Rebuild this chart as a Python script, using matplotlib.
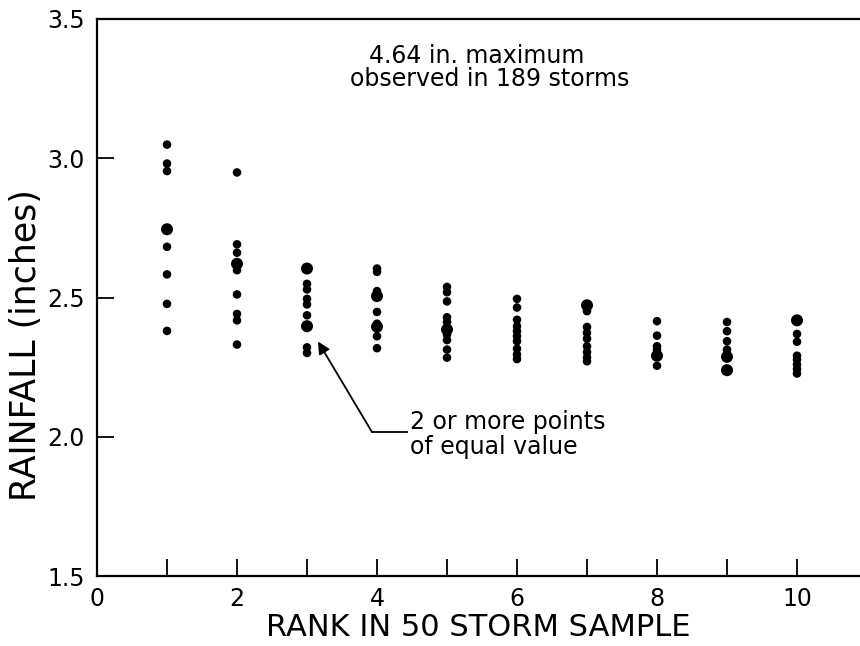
import matplotlib
matplotlib.use("Agg")
import matplotlib.pyplot as plt

plt.rcParams['font.family'] = ['DejaVu Sans']

# Rainfall values (inches) for each rank
rank1 = [3.049, 2.981, 2.954, 2.745, 2.682, 2.583, 2.477, 2.380]
rank2 = [2.949, 2.691, 2.661, 2.621, 2.598, 2.511, 2.441, 2.418, 2.331]
rank3 = [2.604, 2.549, 2.529, 2.495, 2.475, 2.436, 2.397, 2.321, 2.301]
rank4 = [2.604, 2.592, 2.523, 2.505, 2.448, 2.406, 2.395, 2.361, 2.318]
rank5 = [2.538, 2.519, 2.486, 2.429, 2.412, 2.385, 2.366, 2.347, 2.313, 2.284]
rank6 = [2.495, 2.464, 2.420, 2.397, 2.379, 2.361, 2.343, 2.316, 2.295, 2.279]
rank7 = [2.472, 2.451, 2.394, 2.373, 2.352, 2.325, 2.304, 2.285, 2.271]
rank8 = [2.415, 2.363, 2.325, 2.313, 2.291, 2.255]
rank9 = [2.412, 2.379, 2.343, 2.313, 2.287, 2.239]
rank10 = [2.418, 2.369, 2.341, 2.291, 2.277, 2.259, 2.243, 2.227]

# multiplicity (2 = two or more points of equal value)
mult1 = [1, 1, 1, 2, 1, 1, 1, 1]
mult2 = [1, 1, 1, 2, 1, 1, 1, 1, 1]
mult3 = [2, 1, 1, 1, 1, 1, 2, 1, 1]
mult4 = [1, 1, 1, 2, 1, 1, 2, 1, 1]
mult5 = [1, 1, 1, 1, 1, 2, 1, 1, 1, 1]
mult6 = [1, 1, 1, 1, 1, 1, 1, 1, 1, 1]
mult7 = [2, 1, 1, 1, 1, 1, 1, 1, 1]
mult8 = [1, 1, 1, 1, 2, 1]
mult9 = [1, 1, 1, 1, 2, 2]
mult10 = [2, 1, 1, 1, 1, 1, 1, 1]

ranks = [1, 2, 3, 4, 5, 6, 7, 8, 9, 10]
values = [rank1, rank2, rank3, rank4, rank5, rank6, rank7, rank8, rank9, rank10]
mults = [mult1, mult2, mult3, mult4, mult5, mult6, mult7, mult8, mult9, mult10]

x_ticklabels = ["0", "2", "4", "6", "8", "10"]
y_ticklabels = ["1.5", "2.0", "2.5", "3.0", "3.5"]

fig = plt.figure(figsize=(8.6, 6.46), dpi=100)
ax = fig.add_axes([97/860, 1-576/646, 1-97/860, (576-19)/646])

for r, vals, m in zip(ranks, values, mults):
    sizes = [38 if k == 1 else 75 for k in m]
    ax.scatter([r]*len(vals), vals, s=sizes, color='black', edgecolors='none', zorder=3)

ax.set_xlim(0, 763/70)
ax.set_ylim(1.5, 3.5)

ax.set_xticks(range(0, 11))
ax.set_xticklabels([x_ticklabels[i//2] if i % 2 == 0 else "" for i in range(11)])
ax.set_yticks([1.5, 2.0, 2.5, 3.0, 3.5])
ax.set_yticklabels(y_ticklabels)

ax.tick_params(direction='in', length=12, width=1.3, labelsize=17, colors='black', pad=9)
ax.tick_params(axis='x', pad=8)

for s in ['left', 'bottom', 'top']:
    ax.spines[s].set_linewidth(1.6)
ax.spines['right'].set_visible(False)

ax.set_xlabel("RANK IN 50 STORM SAMPLE", fontsize=22, labelpad=1)
ax.set_ylabel("RAINFALL (inches)", fontsize=25)
ax.yaxis.set_label_coords(-0.071, 0.415)

ax.text(5.43, 3.367, "4.64 in. maximum", fontsize=17, ha='center', va='center')
ax.text(5.61, 3.284, "observed in 189 storms", fontsize=17, ha='center', va='center')

ax.text(4.47, 2.054, "2 or more points", fontsize=17, ha='left', va='center')
ax.text(4.47, 1.964, "of equal value", fontsize=17, ha='left', va='center')

ax.plot([3.93, 4.43], [2.016, 2.016], color='black', lw=1.3)
ax.annotate("", xy=(3.157, 2.342), xytext=(3.93, 2.016),
            arrowprops=dict(arrowstyle='-|>', color='black', lw=1.3,
                            mutation_scale=18, shrinkA=0, shrinkB=0))

fig.savefig("out.png", dpi=100)
